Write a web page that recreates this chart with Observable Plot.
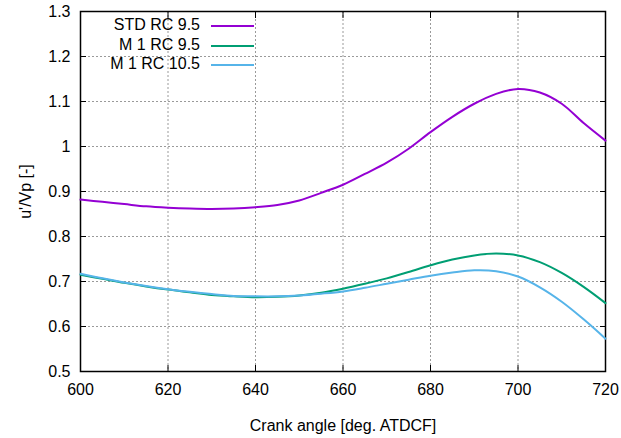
<!DOCTYPE html>
<html>
<head>
<meta charset="utf-8">
<script src="https://cdn.jsdelivr.net/npm/d3@7"></script>
<script src="https://cdn.jsdelivr.net/npm/@observablehq/plot@0.6"></script>
<style>
  html, body { margin: 0; padding: 0; background: #fff; }
  #wrap { position: relative; width: 621px; height: 438px; font-family: "Liberation Sans", Arial, sans-serif; }
  #legend { position: absolute; left: 0; top: 16px; width: 260px; font-size: 16px; color: #000; }
  .row { position: absolute; left: 0; height: 20px; width: 260px; }
  .row span { position: absolute; right: 60px; top: 0; line-height: 18px; white-space: nowrap; }
  .row i { position: absolute; left: 211px; width: 43px; top: 9px; height: 2px; }
</style>
</head>
<body>
<div id="wrap"></div>
<script>
const angles = [600,605,610,615,620,625,630,635,640,645,650,655,660,665,670,675,680,685,690,695,700,705,710,715,720];
const stdRC95 = [0.882,0.877,0.872,0.867,0.864,0.862,0.861,0.862,0.865,0.870,0.880,0.897,0.915,0.939,0.964,0.995,1.032,1.066,1.095,1.117,1.128,1.120,1.095,1.052,1.013];
const m1RC95  = [0.715,0.706,0.697,0.689,0.682,0.676,0.670,0.667,0.665,0.666,0.669,0.675,0.684,0.695,0.707,0.721,0.736,0.749,0.758,0.762,0.758,0.743,0.719,0.688,0.652];
const m1RC105 = [0.717,0.707,0.698,0.690,0.683,0.677,0.672,0.668,0.667,0.667,0.669,0.673,0.678,0.686,0.695,0.704,0.713,0.720,0.725,0.723,0.711,0.687,0.655,0.616,0.573];
const seriesNames = ["STD RC 9.5", "M 1 RC 9.5", "M 1 RC 10.5"];
const seriesColors = ["#9400d3", "#009e73", "#56b4e9"];
const xTicks = [600,620,640,660,680,700,720];
const yTicks = [0.5,0.6,0.7,0.8,0.9,1.0,1.1,1.2,1.3];

const seriesValues = [stdRC95, m1RC95, m1RC105];
const rows = seriesNames.flatMap((name, s) => angles.map((a, i) => ({series: name, angle: a, value: seriesValues[s][i]})));

const grid = {stroke: "#9a9a9a", strokeOpacity: 1, strokeDasharray: "2,2", strokeWidth: 1};
const chart = Plot.plot({
  width: 621,
  height: 438,
  marginLeft: 80,
  marginRight: 16,
  marginTop: 11,
  marginBottom: 67,
  style: {fontFamily: "'Liberation Sans', Arial, sans-serif", fontSize: "16px", color: "#000", background: "#fff"},
  x: {domain: [600, 720]},
  y: {domain: [0.5, 1.3]},
  color: {domain: seriesNames, range: seriesColors},
  marks: [
    Plot.gridX(xTicks, grid),
    Plot.gridY(yTicks, grid),
    Plot.frame({stroke: "#000", strokeWidth: 1.5}),
    Plot.axisX(xTicks, {anchor: "bottom", tickSize: -6, tickPadding: 18, tickFormat: d => String(d), label: "Crank angle [deg. ATDCF]", labelAnchor: "center", labelArrow: "none", labelOffset: 59}),
    Plot.axisX(xTicks, {anchor: "top", tickSize: -6, tickFormat: () => "", label: null}),
    Plot.axisY(yTicks, {anchor: "left", tickSize: -6, tickPadding: 16, tickFormat: d => String(d), label: "u'/Vp [-]", labelAnchor: "center", labelArrow: "none", labelOffset: 61}),
    Plot.axisY(yTicks, {anchor: "right", tickSize: -6, tickFormat: () => "", label: null}),
    Plot.line(rows, {x: "angle", y: "value", z: "series", stroke: "series", strokeWidth: 2, curve: "catmull-rom"})
  ]
});
const wrap = document.getElementById("wrap");
wrap.appendChild(chart);

const legend = document.createElement("div");
legend.id = "legend";
seriesNames.forEach((name, i) => {
  const r = document.createElement("div");
  r.className = "row";
  r.style.top = (i * 19.5) + "px";
  const t = document.createElement("span");
  t.textContent = name;
  const l = document.createElement("i");
  l.style.background = seriesColors[i];
  r.appendChild(t); r.appendChild(l);
  legend.appendChild(r);
});
wrap.appendChild(legend);
</script>
</body>
</html>
